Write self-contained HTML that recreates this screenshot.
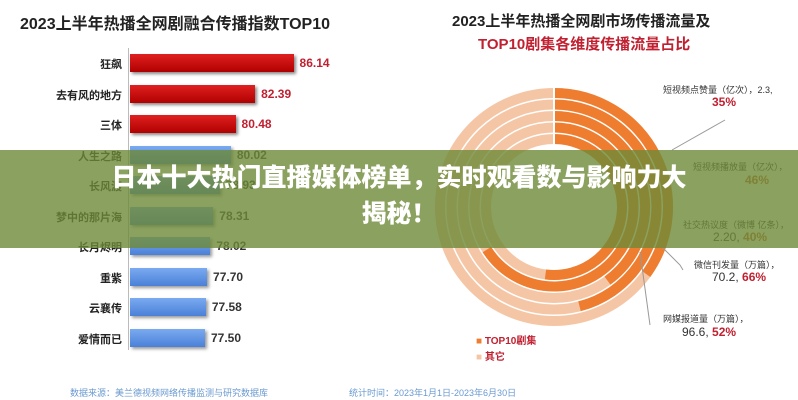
<!DOCTYPE html><html><head><meta charset="utf-8"><style>
body{margin:0;width:798px;height:400px;overflow:hidden;background:#fff;font-family:"Liberation Sans","Noto Sans CJK SC",sans-serif;position:relative}
.t{position:absolute;white-space:nowrap}
.lab{position:absolute;right:676px;font-size:11px;font-weight:bold;color:#222;white-space:nowrap}
.bar{position:absolute;left:130px;height:18px}
.red{background:linear-gradient(#e02020,#b00000);box-shadow:2px 2px 3px #888}
.blue{background:linear-gradient(#7aaaf0,#4a80d8);box-shadow:2px 2px 3px #999}
.val{position:absolute;font-size:12px;font-weight:bold}
</style></head><body>
<div class="t" style="left:20px;top:10px;font-size:16px;font-weight:bold;color:#222">2023上半年热播全网剧融合传播指数TOP10</div>
<div style="position:absolute;left:128px;top:48px;width:1px;height:302px;background:#bbb"></div>
<div id="bars"></div>
<script>
var d=[["狂飙",86.14],["去有风的地方",82.39],["三体",80.48],["人生之路",80.02],["长风渡",78.93],["梦中的那片海",78.31],["长月烬明",78.02],["重紫",77.70],["云襄传",77.58],["爱情而已",77.50]];
var h="";d.forEach(function(r,i){var y=54+i*30.5;var w=75+(r[1]-77.5)*10.25;var red=i<3;
h+='<div class="lab" style="top:'+(y+2)+'px">'+r[0]+'</div><div class="bar '+(red?'red':'blue')+'" style="top:'+y+'px;width:'+w+'px"></div><div class="val" style="left:'+(136+w)+'px;top:'+(y+2)+'px;color:'+(red?'#c02030':'#333')+'">'+r[1].toFixed(2)+'</div>';});
document.getElementById('bars').innerHTML=h;
</script>
<div class="t" style="left:452px;top:10px;font-size:15px;font-weight:bold;color:#222">2023上半年热播全网剧市场传播流量及</div>
<div class="t" style="left:478px;top:33px;font-size:15px;font-weight:bold;color:#c02030">TOP10剧集各维度传播流量占比</div>
<svg style="position:absolute;left:0;top:0" width="798" height="400" id="sv"></svg>
<script>
var s="",cx=554,cy=207,p=[0.35,0.46,0.40,0.66,0.52];
for(var i=0;i<5;i++){var r=114-i*11.5;s+='<circle cx="'+cx+'" cy="'+cy+'" r="'+r+'" fill="none" stroke="#f5c6a5" stroke-width="10"/>';
var a=p[i]*2*Math.PI,x=cx+r*Math.sin(a),y=cy-r*Math.cos(a);
s+='<path d="M'+cx+' '+(cy-r)+' A'+r+' '+r+' 0 '+(p[i]>0.5?1:0)+' 1 '+x+' '+y+'" fill="none" stroke="#ee7d30" stroke-width="10"/>';}
s+='<line x1="554" y1="87" x2="554" y2="207" stroke="#fff" stroke-width="2"/>';
s+='<polyline points="672,150 725,120" stroke="#999" fill="none"/><polyline points="660,245 680,265 683,270" stroke="#999" fill="none"/><polyline points="640,252 650,325" stroke="#999" fill="none"/>';
document.getElementById('sv').innerHTML=s;
</script>
<div class="t" style="left:663px;top:83px;font-size:9px;color:#333">短视频点赞量（亿次），2.3,</div>
<div class="t" style="left:712px;top:95px;font-size:12px;font-weight:bold;color:#c02030">35%</div>
<div class="t" style="left:693px;top:160px;font-size:9px;color:#333">短视频播放量（亿次），</div>
<div class="t" style="left:745px;top:173px;font-size:12px;font-weight:bold;color:#c06030">46%</div>
<div class="t" style="left:683px;top:218px;font-size:9px;color:#333">社交热议度（微博 亿条），</div>
<div class="t" style="left:713px;top:230px;font-size:12px;color:#333">2.20, <b style="color:#c06030">40%</b></div>
<div class="t" style="left:694px;top:258px;font-size:9px;color:#333">微信刊发量（万篇），</div>
<div class="t" style="left:712px;top:270px;font-size:12px;color:#333">70.2, <b style="color:#c02030">66%</b></div>
<div class="t" style="left:663px;top:312px;font-size:9px;color:#333">网媒报道量（万篇），</div>
<div class="t" style="left:682px;top:325px;font-size:12px;color:#333">96.6, <b style="color:#c02030">52%</b></div>
<div class="t" style="left:476px;top:332px;font-size:10px;font-weight:bold;color:#c02030"><span style="color:#ee7d30">■</span> TOP10剧集</div>
<div class="t" style="left:476px;top:348px;font-size:10px;font-weight:bold;color:#c02030"><span style="color:#f5c6a5">■</span> 其它</div>
<div class="t" style="left:70px;top:386px;font-size:9px;color:#6a9ad0">数据来源：美兰德视频网络传播监测与研究数据库　　　　　　　　　统计时间：2023年1月1日-2023年6月30日</div>
<div style="position:absolute;left:0;top:150px;width:798px;height:98px;background:rgba(110,138,55,0.8)"></div>
<div class="t" style="left:0;width:798px;text-align:center;top:160px;font-size:25px;line-height:36px;font-weight:900;color:#fff;white-space:normal">日本十大热门直播媒体榜单，实时观看数与影响力大<br>揭秘！</div>
</body></html>
